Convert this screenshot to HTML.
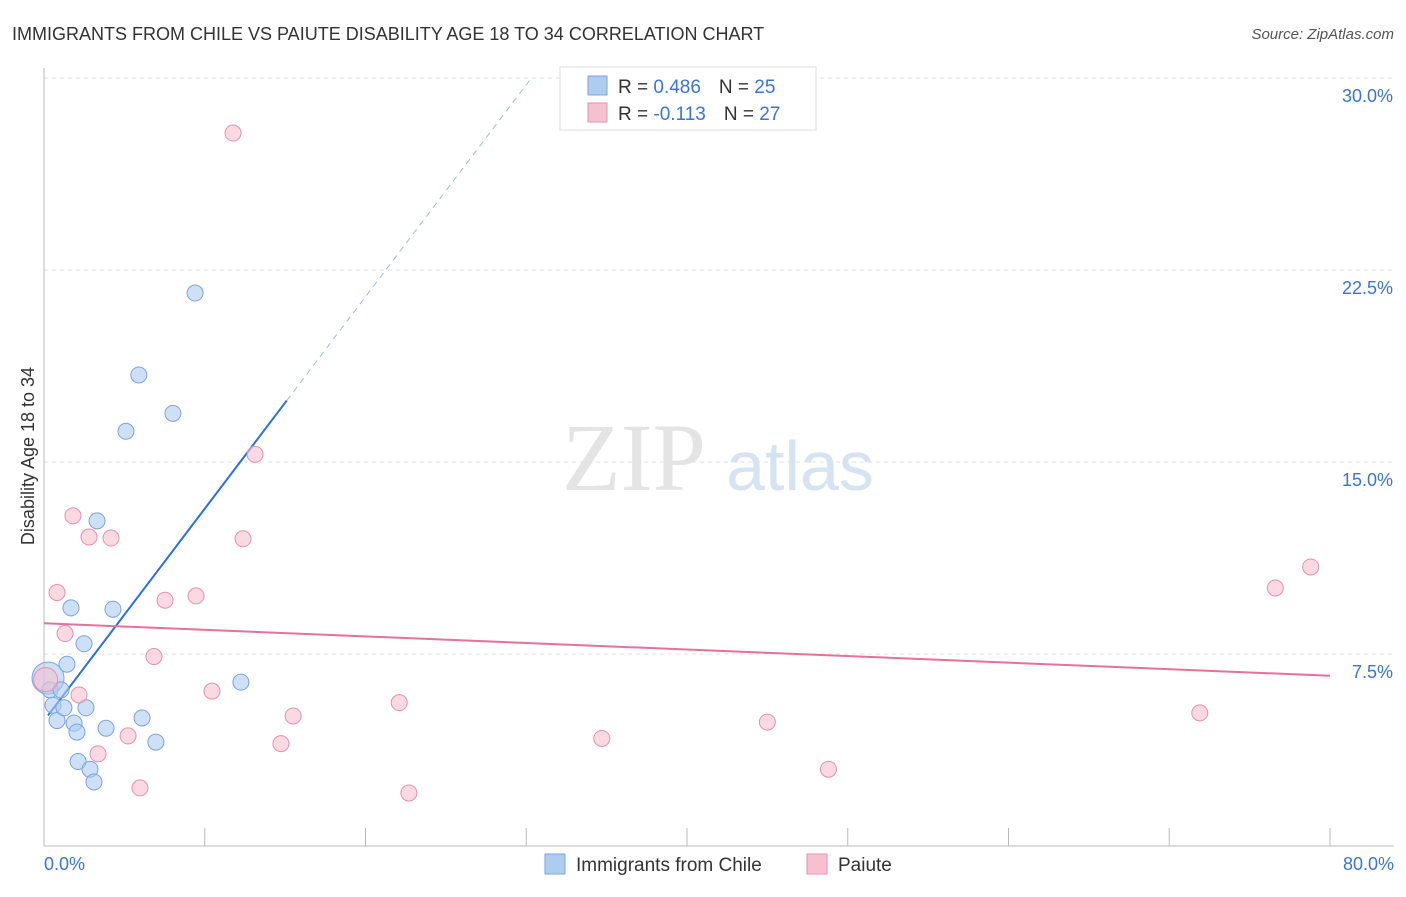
<!DOCTYPE html>
<html><head><meta charset="utf-8"><style>
body{margin:0;background:#fff;font-family:"Liberation Sans",sans-serif;}
svg text{font-family:"Liberation Sans",sans-serif;}
</style></head><body>
<svg width="1406" height="892" viewBox="0 0 1406 892">
<text x="12" y="40" font-size="18" fill="#333">IMMIGRANTS FROM CHILE VS PAIUTE DISABILITY AGE 18 TO 34 CORRELATION CHART</text>
<text x="1394" y="39" font-size="15" font-style="italic" fill="#555" text-anchor="end">Source: ZipAtlas.com</text>
<g id="grid"></g>
<text x="634" y="490" font-size="96" fill="#e4e4e4" font-family="Liberation Serif" text-anchor="middle" style="font-family:'Liberation Serif',serif">ZIP</text>
<text x="800" y="490" font-size="70" fill="#d6e3f5" text-anchor="middle">atlas</text>
<line x1="44" y1="68" x2="44" y2="846" stroke="#bbb"/>
<line x1="44" y1="846" x2="1394" y2="846" stroke="#bbb"/>
<text x="34" y="456" font-size="18" fill="#333" text-anchor="middle" transform="rotate(-90 34 456)">Disability Age 18 to 34</text>
<text x="44" y="870" font-size="18" fill="#3a75d6">0.0%</text>
<text x="1394" y="870" font-size="18" fill="#3a75d6" text-anchor="end">80.0%</text>
<g id="lines"></g>
<g id="pts"></g>
<g>
<rect x="560" y="67" width="256" height="63" fill="#fff" stroke="#ddd"/>
<rect x="588" y="76" width="19" height="19" fill="#aecbf0" stroke="#7aa5e0"/>
<rect x="588" y="103" width="19" height="19" fill="#f6c0d0" stroke="#e890b0"/>
<text x="618" y="93" font-size="19" fill="#333">R = <tspan fill="#3a75d6">0.486</tspan><tspan dx="18">N = </tspan><tspan fill="#3a75d6">25</tspan></text>
<text x="618" y="120" font-size="19" fill="#333">R = <tspan fill="#3a75d6">-0.113</tspan><tspan dx="18">N = </tspan><tspan fill="#3a75d6">27</tspan></text>
</g>
<g>
<rect x="545" y="854" width="20" height="20" fill="#aecbf0" stroke="#7aa5e0"/>
<text x="576" y="871" font-size="19" fill="#333">Immigrants from Chile</text>
<rect x="807" y="854" width="20" height="20" fill="#f6c0d0" stroke="#e890b0"/>
<text x="838" y="871" font-size="19" fill="#333">Paiute</text>
</g>
</svg>
<script>
const yTicks=[7.5,15,22.5,30];
const yTickLabels=["7.5%","15.0%","22.5%","30.0%"];
const xTickVals=[0,10,20,30,40,50,60,70,80];
const chileX=[0.25,0.37,0.56,0.81,1.06,1.24,1.43,1.68,1.87,2.05,2.12,2.49,2.61,2.86,3.11,3.3,3.86,4.29,5.1,5.9,6.1,6.96,8.02,9.4,12.25];
const chileY=[6.56,6.1,5.5,4.9,6.1,5.4,7.1,9.3,4.8,4.45,3.3,7.9,5.4,3.0,2.5,12.7,4.6,9.25,16.2,18.4,5.0,4.06,16.9,21.6,6.4];
const paiuteX=[0.1,11.76,13.13,1.8,2.8,4.17,12.38,0.81,7.53,9.46,1.31,6.84,2.18,10.45,15.5,22.1,5.23,3.36,14.74,5.97,22.7,34.7,45.0,48.8,71.9,76.6,78.8];
const paiuteY=[6.5,27.85,15.3,12.9,12.07,12.03,12.0,9.9,9.6,9.77,8.3,7.4,5.9,6.05,5.08,5.6,4.3,3.6,4.0,2.27,2.07,4.2,4.84,3.0,5.2,10.08,10.9];
const chileTrend=[[0.25,5.1],[15.1,17.4],[30.2,29.9]];
const paiuteTrend=[[0,8.7],[80,6.65]];
const X=v=>44+v*16.075, Y=v=>846-v*25.6;
const NS="http://www.w3.org/2000/svg";
function mk(t,a,p){const e=document.createElementNS(NS,t);for(const k in a)e.setAttribute(k,a[k]);p.appendChild(e);return e;}
const grid=document.getElementById('grid');
yTicks.forEach((v,i)=>{
 const l=mk('line',{x1:44,x2:1394,y1:Y(v),y2:Y(v),stroke:'#e2e2e2','stroke-dasharray':'4,4'},grid);
 
 
 const t=mk('text',{x:1393,y:Y(v)+24,'font-size':18,fill:'#3a75d6','text-anchor':'end'},grid);
 t.textContent=yTickLabels[i];
 
 
});
xTickVals.forEach(v=>{
 const l=mk('line',{x1:X(v),x2:X(v),y1:828,y2:846,stroke:'#bbb'},grid);
 
 
});
const lines=document.getElementById('lines');
let a=mk('line',{x1:X(chileTrend[0][0]),y1:Y(chileTrend[0][1]),x2:X(chileTrend[1][0]),y2:Y(chileTrend[1][1]),stroke:'#2a6fdb','stroke-width':2},lines);


a=mk('line',{x1:X(chileTrend[1][0]),y1:Y(chileTrend[1][1]),x2:X(chileTrend[2][0]),y2:Y(chileTrend[2][1]),stroke:'#9bbbe8','stroke-width':1,'stroke-dasharray':'6,5'},lines);


a=mk('line',{x1:X(paiuteTrend[0][0]),y1:Y(paiuteTrend[0][1]),x2:X(paiuteTrend[1][0]),y2:Y(paiuteTrend[1][1]),stroke:'#e8709a','stroke-width':2},lines);


const pts=document.getElementById('pts');
chileX.forEach((x,i)=>{
 const c=mk('circle',{cx:X(x),cy:Y(chileY[i]),r:i==0?16:8,fill:'#aecbf0','fill-opacity':0.6,stroke:'#7aa5e0'},pts);
 
 
});
paiuteX.forEach((x,i)=>{
 const c=mk('circle',{cx:X(x),cy:Y(paiuteY[i]),r:i==0?12:8,fill:'#f6c0d0','fill-opacity':0.6,stroke:'#e890b0'},pts);
 
 
});
</script>
</body></html>
